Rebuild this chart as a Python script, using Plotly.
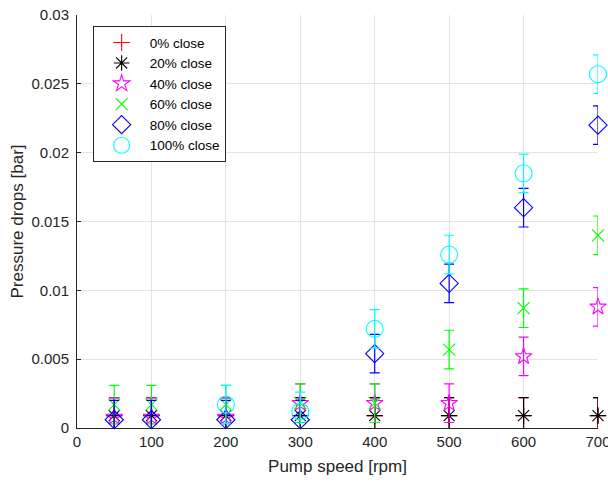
import plotly.graph_objects as go

# Pump speed [rpm]
speed = [50, 100, 200, 300, 400, 500, 600, 700]

# Mean pressure drop [bar] for each valve closing ratio
dp_0 = [0.0009, 0.0009, 0.0009, 0.0009, 0.0009, 0.0009, 0.0009, 0.0009]
dp_20 = [0.0009, 0.0009, 0.0009, 0.0009, 0.0009, 0.0009, 0.0009, 0.0009]
dp_40 = [0.0008, 0.0008, 0.0008, 0.0018, 0.0018, 0.0018, 0.0052, 0.0088]
dp_60 = [0.0017, 0.0017, 0.0017, 0.0018, 0.0018, 0.0057, 0.0087, 0.0140]
dp_80 = [0.0006, 0.0006, 0.0006, 0.0006, 0.0054, 0.0105, 0.0160, 0.0220]
dp_100 = [None, None, 0.0017, 0.0012, 0.0072, 0.0126, 0.0185, 0.0257]

# Measurement uncertainty [bar]
err_0 = [0.0013] * 8
err_20 = [0.0013] * 8
err_40 = [0.0014] * 8
err_60 = [0.0014] * 8
err_80 = [0.0014] * 8
err_100 = [0.0014] * 8

series = [
    ("0% close", dp_0, err_0, "#ff0000", "cross-thin-open", 12),
    ("20% close", dp_20, err_20, "#000000", "asterisk-open", 13),
    ("40% close", dp_40, err_40, "#ff00ff", "star-open", 12.5),
    ("60% close", dp_60, err_60, "#00ff00", "x-thin-open", 12),
    ("80% close", dp_80, err_80, "#0000ff", "diamond-open", 14),
    ("100% close", dp_100, err_100, "#00ffff", "circle-open", 17),
]

fig = go.Figure()
for name, vals, errs, color, symbol, size in series:
    fig.add_trace(go.Scatter(
        x=speed, y=vals, name=name, mode="markers",
        marker=dict(symbol=symbol, size=size, color=color,
                    line=dict(color=color, width=1.1)),
        error_y=dict(type="data", array=errs, visible=True,
                     color=color, thickness=1.2, width=5),
        cliponaxis=False,
    ))

axis_color = "#262626"
grid_color = "#e3e3e3"

fig.update_layout(
    width=608, height=483,
    margin=dict(l=77, r=10, t=15, b=55),
    paper_bgcolor="white", plot_bgcolor="white",
    font=dict(family="Liberation Sans, Arial, sans-serif", size=15, color=axis_color),
    showlegend=True,
    legend=dict(
        x=0.03, y=0.973, xanchor="left", yanchor="top",
        bgcolor="white", bordercolor=axis_color, borderwidth=1,
        font=dict(size=13.5, color="#000000"),
        tracegroupgap=0, itemwidth=46,
    ),
    xaxis=dict(
        range=[0, 700], tickmode="array",
        tickvals=[0, 100, 200, 300, 400, 500, 600, 700],
        ticktext=["0", "100", "200", "300", "400", "500", "600", "700"],
        showgrid=True, gridcolor=grid_color, gridwidth=1,
        zeroline=False, showline=True, linecolor=axis_color, linewidth=1,
        ticks="inside", ticklen=4, tickcolor=axis_color,
        tickfont=dict(size=15), ticklabeloverflow="allow", automargin=False,
        title=dict(text="Pump speed [rpm]", font=dict(size=17), standoff=11),
    ),
    yaxis=dict(
        range=[0, 0.03], tickmode="array",
        tickvals=[0, 0.005, 0.01, 0.015, 0.02, 0.025, 0.03],
        ticktext=["0", "0.005", "0.01", "0.015", "0.02", "0.025", "0.03"],
        showgrid=True, gridcolor=grid_color, gridwidth=1,
        zeroline=False, showline=True, linecolor=axis_color, linewidth=1,
        ticks="inside", ticklen=4, tickcolor=axis_color,
        tickfont=dict(size=15), ticklabelstandoff=4, automargin=False,
        title=dict(text="Pressure drops [bar]", font=dict(size=17), standoff=3),
    ),
)

fig.write_html("out.html")
